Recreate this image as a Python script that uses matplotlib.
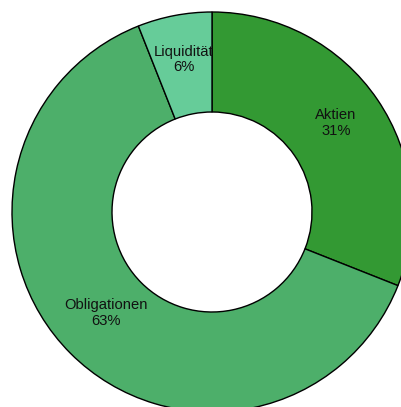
import numpy as np
import matplotlib.pyplot as plt

# Data
labels = ['Aktien', 'Obligationen', 'Liquidität']
shares = [31, 63, 6]
colors = ['#339933', '#4daf6a', '#66cc99']

W, H = 402, 407
fig = plt.figure(figsize=(W / 100, H / 100), dpi=100)
ax = fig.add_axes([0, 0, 1, 1])

cx, cy = 212, H - 212
R = 200
wedges, _ = ax.pie(
    shares,
    colors=colors,
    startangle=90,
    counterclock=False,
    radius=R,
    center=(cx, cy),
    wedgeprops=dict(width=R / 2, edgecolor='black', linewidth=1),
)

# Labels in the middle of the ring
for w, name, val in zip(wedges, labels, shares):
    mid = np.deg2rad((w.theta1 + w.theta2) / 2)
    x = cx + 0.75 * R * np.cos(mid)
    y = cy + 0.75 * R * np.sin(mid) + 5
    ax.text(x, y, f'{name}\n{val}%', ha='center', va='center',
            fontsize=10.6, family='Liberation Sans', color='#111111',
            linespacing=1.15)

ax.set_xlim(0, W)
ax.set_ylim(0, H)
ax.set_aspect('equal')
ax.axis('off')

fig.savefig('out.png', dpi=100, facecolor='white')
